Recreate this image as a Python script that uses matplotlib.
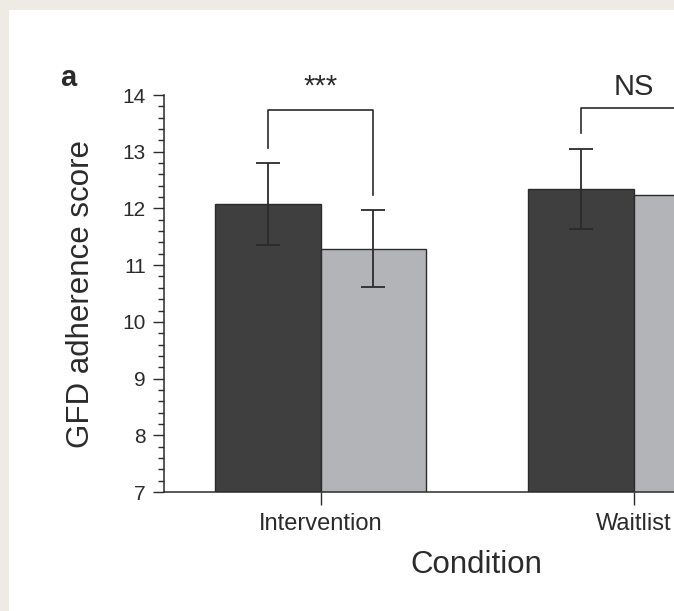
import matplotlib
matplotlib.use("Agg")
import matplotlib.pyplot as plt
from matplotlib.patches import Rectangle
from matplotlib.ticker import MultipleLocator

plt.rcParams['font.family'] = ['Liberation Sans', 'DejaVu Sans']

# data
conditions = ["Intervention", "Waitlist"]
dark_means = [12.08, 12.34]      # first (dark) bar of each condition
dark_err = [0.72, 0.70]
light_means = [11.29, 12.24]     # second (light) bar of each condition
light_err = [0.68, 0.70]
sig_labels = ["***", "NS"]
bracket_top = [13.74, 13.77]
bracket_left_end = [13.06, 13.33]
bracket_right_end = [12.24, 13.20]

ink = "#2b2b2b"
dark_col = "#3f3f3f"
light_col = "#b3b4b7"

fig = plt.figure(figsize=(6.74, 6.11), dpi=100)
fig.patch.set_facecolor("#eeebe4")
# white panel inside the grey page border
fig.add_artist(Rectangle((9 / 674, 0), 1, 1 - 10 / 611, transform=fig.transFigure,
                         facecolor="white", edgecolor="none", zorder=0))

# axes run past the right edge, the reference is cropped there
ax = fig.add_axes([164 / 674, 119 / 611, 626 / 674, 397 / 611])
ax.set_facecolor("white")

w = 0.3355
x = list(range(len(conditions)))
xd = [i - w / 2 for i in x]
xl = [i + w / 2 for i in x]

err_kw = dict(ecolor=ink, elinewidth=1.3, capsize=8.8, capthick=1.3)
ax.bar(xd, dark_means, width=w, color=dark_col, edgecolor=ink, linewidth=1.0,
       yerr=dark_err, error_kw=err_kw, zorder=2)
ax.bar(xl, light_means, width=w, color=light_col, edgecolor=ink, linewidth=1.0,
       yerr=light_err, error_kw=err_kw, zorder=2)

# significance brackets
for i in x:
    ax.plot([xd[i], xd[i], xl[i], xl[i]],
            [bracket_left_end[i], bracket_top[i], bracket_top[i], bracket_right_end[i]],
            color=ink, lw=1.2, clip_on=False, zorder=3)
    ax.text(i, 14.0, sig_labels[i], ha="center", va="baseline",
            fontsize=21, color=ink, clip_on=False)

ax.set_xlim(-0.5, 1.5)
ax.set_ylim(7, 14)
ax.set_xticks(x)
ax.set_xticklabels(conditions, fontsize=17, color=ink)
ax.yaxis.set_major_locator(MultipleLocator(1))
ax.yaxis.set_minor_locator(MultipleLocator(0.2))
ax.tick_params(axis="y", which="major", length=8, width=1.0, color=ink,
               labelsize=15, labelcolor=ink, pad=5)
ax.tick_params(axis="y", which="minor", length=4.3, width=1.0, color=ink)
ax.tick_params(axis="x", which="major", length=9, width=1.0, color=ink, pad=6)

for s in ["top", "right"]:
    ax.spines[s].set_visible(False)
for s in ["left", "bottom"]:
    ax.spines[s].set_color(ink)
    ax.spines[s].set_linewidth(1.1)

ax.set_ylabel("GFD adherence score", fontsize=22.5, color=ink)
ax.yaxis.label.set_va("center")
ax.yaxis.set_label_coords(-83 / 626, 0.5)
ax.set_xlabel("Condition", fontsize=22.5, color=ink)
ax.xaxis.label.set_va("baseline")
ax.xaxis.set_label_coords(0.499, -(572.7 - 492) / 397)

fig.text(60 / 674, 1 - 86 / 611, "a", fontsize=21, fontweight="bold",
         color=ink, va="baseline", ha="left")

fig.savefig("out.png", dpi=100, facecolor=fig.get_facecolor())
